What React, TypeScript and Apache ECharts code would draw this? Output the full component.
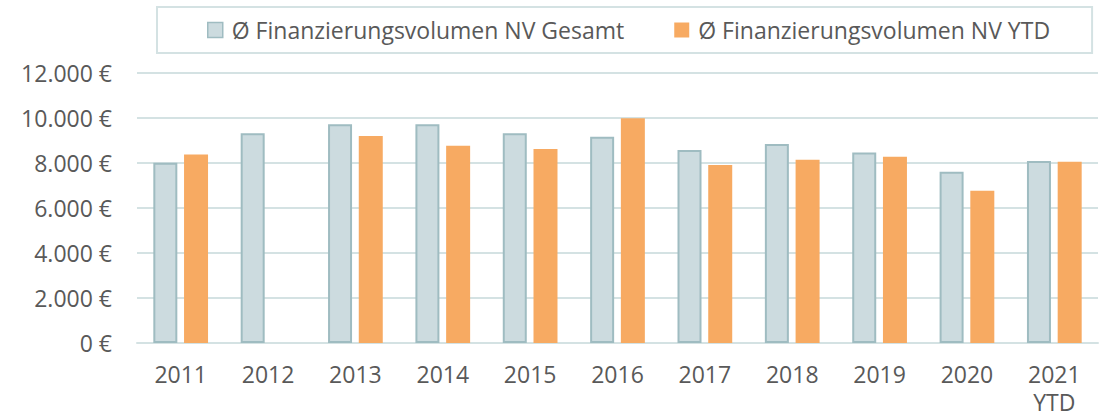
import React, { useEffect, useRef } from "react";
import * as echarts from "echarts";

const categories = ["2011", "2012", "2013", "2014", "2015", "2016", "2017", "2018", "2019", "2020", "2021\nYTD"];
const gesamt = [8010, 9320, 9720, 9720, 9320, 9170, 8580, 8840, 8470, 7610, 8090];
const ytd: (number | null)[] = [8380, null, 9200, 8770, 8620, 9990, 7910, 8150, 8280, 6770, 8060];
const seriesNames = ["Ø Finanzierungsvolumen NV Gesamt", "Ø Finanzierungsvolumen NV YTD"];

const FONT = "'Open Sans', sans-serif";
const TEXT = "#595959";
const GRID = "#d4e2e3";

function fmt(v: number): string {
  return String(v).replace(/\B(?=(\d{3})+(?!\d))/g, ".") + " €";
}

export default function App() {
  const ref = useRef<HTMLDivElement>(null);
  useEffect(() => {
    if (!ref.current) return;
    const chart = echarts.init(ref.current, undefined, { renderer: "svg" });
    chart.setOption({
      animation: false,
      backgroundColor: "#ffffff",
      textStyle: { fontFamily: FONT },
      legend: {
        left: 157,
        top: 7,
        padding: [9, 42, 9, 50],
        itemGap: 50,
        itemWidth: 15,
        itemHeight: 15,
        borderColor: GRID,
        borderWidth: 2,
        icon: "rect",
        textStyle: { fontFamily: FONT, fontSize: 23, color: TEXT, lineHeight: 28, padding: [0, 0, 0, 4] },
        data: [
          { name: seriesNames[0], itemStyle: { color: "#ccdbdf", borderColor: "#9fbcc1", borderWidth: 1.5 } },
          { name: seriesNames[1], itemStyle: { color: "#f7aa62" } },
        ],
      },
      grid: { left: 137, right: 8, top: 73, bottom: 74, containLabel: false, outerBoundsMode: "none" },
      xAxis: {
        type: "category",
        data: categories,
        axisLine: { show: true, lineStyle: { color: GRID, width: 2 } },
        axisTick: { show: false },
        axisLabel: { fontFamily: FONT, fontSize: 23, color: TEXT, margin: 17, lineHeight: 28 },
      },
      yAxis: {
        type: "value",
        min: 0,
        max: 12000,
        interval: 2000,
        axisLine: { show: false },
        axisTick: { show: false },
        splitLine: { lineStyle: { color: GRID, width: 2 } },
        axisLabel: { fontFamily: FONT, fontSize: 23, color: TEXT, margin: 25, formatter: (v: number) => fmt(v) },
      },
      series: [
        {
          name: seriesNames[0],
          type: "bar",
          data: gesamt,
          barWidth: 24,
          barGap: "28%",
          itemStyle: { color: "#ccdbdf", borderColor: "#9fbcc1", borderWidth: 2 },
        },
        {
          name: seriesNames[1],
          type: "bar",
          data: ytd,
          barWidth: 24,
          barGap: "28%",
          itemStyle: { color: "#f7aa62" },
        },
      ],
    });
    return () => chart.dispose();
  }, []);
  return <div ref={ref} style={{ width: 1106, height: 417, position: "absolute", left: 0, top: 0 }} />;
}
